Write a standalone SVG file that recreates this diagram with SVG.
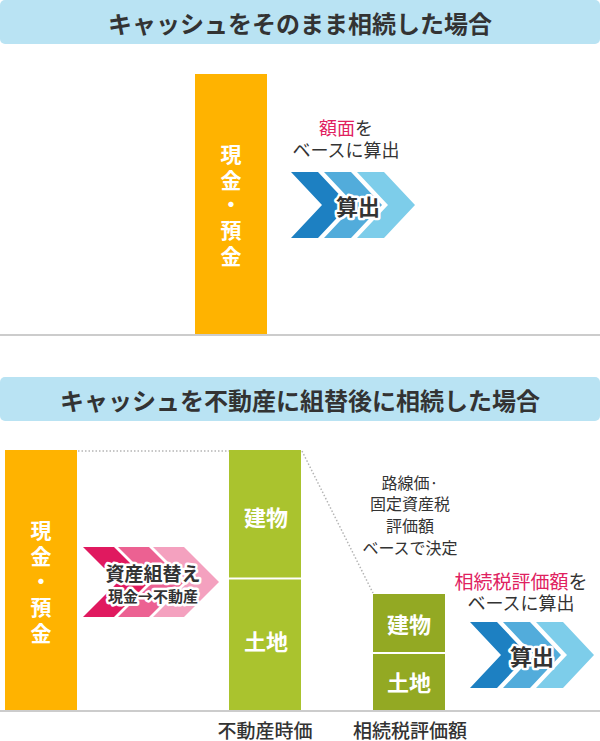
<svg xmlns="http://www.w3.org/2000/svg" width="600" height="741" viewBox="0 0 600 741">
<style>
text{font-family:"Noto Sans CJK JP","Noto Sans",sans-serif;}
.hdr{fill:#b9e3f3;}
.htx{font-size:24px;font-weight:700;fill:#333;text-anchor:middle;dominant-baseline:central;}
.wt{fill:#fff;font-size:22px;font-weight:700;text-anchor:middle;dominant-baseline:central;}
.vt{fill:#fff;font-size:21px;font-weight:700;text-anchor:middle;}
.dk{fill:#333;text-anchor:middle;dominant-baseline:central;}
.pk{fill:#e0215f;}
.ol{stroke:#fff;stroke-width:5;stroke-linejoin:round;paint-order:stroke;font-weight:700;}
.base{stroke:#cccccc;stroke-width:2;}
.dot{stroke:#b5b5b5;stroke-width:1.5;stroke-dasharray:1.5 2;fill:none;}
.b1{fill:#1d80c2;}.b2{fill:#52acdb;}.b3{fill:#7dcdea;}
.p1{fill:#e0195f;}.p2{fill:#ec6192;}.p3{fill:#f4a1bf;}
</style>

<g id="header1">
<rect class="hdr" x="0" y="0" width="600" height="44" rx="5"/>
<text class="htx" x="300" y="22">キャッシュをそのまま相続した場合</text>
</g>

<g id="cash1">
<rect x="195" y="74" width="72" height="261" fill="#ffb300"/>
<text class="vt" x="231" y="162"><tspan x="231" y="162">現</tspan><tspan x="231" y="188">金</tspan><tspan x="231" y="212">・</tspan><tspan x="231" y="238">預</tspan><tspan x="231" y="264">金</tspan></text>
</g>

<g id="note1">
<text class="dk" x="346" y="127" font-size="18"><tspan class="pk">額面</tspan>を</text>
<text class="dk" x="346" y="149" font-size="18">ベースに算出</text>
</g>

<g id="calc1">
<polygon class="b1" points="291,172 318,172 349,205 318,238 291,238 322,205"/>
<polygon class="b2" points="324,172 351,172 382,205 351,238 324,238 355,205"/>
<polygon class="b3" points="357,172 384,172 415,205 384,238 357,238 388,205"/>
<text class="dk ol" x="358" y="205" font-size="22">算出</text>
</g>

<line class="base" x1="0" y1="335" x2="600" y2="335"/>

<g id="header2">
<rect class="hdr" x="0" y="377" width="600" height="44" rx="5"/>
<text class="htx" x="300" y="399">キャッシュを不動産に組替後に相続した場合</text>
</g>

<g id="connectors">
<line class="dot" x1="78" y1="451" x2="229" y2="451"/>
<line class="dot" x1="302" y1="451" x2="373" y2="593"/>
</g>

<g id="cash2">
<rect x="5" y="450" width="72" height="261" fill="#ffb300"/>
<text class="vt" x="41" y="538"><tspan x="41" y="538">現</tspan><tspan x="41" y="564">金</tspan><tspan x="41" y="589">・</tspan><tspan x="41" y="615">預</tspan><tspan x="41" y="641">金</tspan></text>
</g>

<g id="swap">
<polygon class="p1" points="83,547 114,547 149,582 114,617 83,617 118,582"/>
<polygon class="p2" points="118,547 149,547 184,582 149,617 118,617 153,582"/>
<polygon class="p3" points="153,547 184,547 219,582 184,617 153,617 188,582"/>
<text class="dk ol" x="153" y="572" font-size="19">資産組替え</text>
<text class="dk ol" x="153" y="595" font-size="15" font-weight="500">現金→不動産</text>
</g>

<g id="market">
<rect x="229" y="450" width="72" height="261" fill="#aac32e"/>
<line x1="229" y1="578.5" x2="301" y2="578.5" stroke="#fff" stroke-width="2"/>
<text class="wt" x="266" y="516">建物</text>
<text class="wt" x="266" y="640">土地</text>
</g>

<g id="note2">
<text class="dk" x="410" y="482" font-size="16">路線価·</text>
<text class="dk" x="410" y="503" font-size="16">固定資産税</text>
<text class="dk" x="410" y="525" font-size="16">評価額</text>
<text class="dk" x="410" y="547" font-size="16">ベースで決定</text>
</g>

<g id="taxval">
<rect x="373" y="594" width="72" height="117" fill="#93a923"/>
<line x1="373" y1="653" x2="445" y2="653" stroke="#fff" stroke-width="2"/>
<text class="wt" x="409" y="623">建物</text>
<text class="wt" x="409" y="681">土地</text>
</g>

<g id="note3">
<text class="dk" x="521" y="580" font-size="19"><tspan class="pk">相続税評価額</tspan>を</text>
<text class="dk" x="521" y="602" font-size="18">ベースに算出</text>
</g>

<g id="calc2">
<polygon class="b1" points="470,622 497,622 528,655 497,688 470,688 501,655"/>
<polygon class="b2" points="503,622 530,622 561,655 530,688 503,688 534,655"/>
<polygon class="b3" points="536,622 563,622 594,655 563,688 536,688 567,655"/>
<text class="dk ol" x="532" y="655" font-size="22">算出</text>
</g>

<line class="base" x1="0" y1="711" x2="600" y2="711"/>

<g id="labels">
<text class="dk" x="265" y="729" font-size="19" font-weight="500">不動産時価</text>
<text class="dk" x="410" y="729" font-size="19" font-weight="500">相続税評価額</text>
</g>
</svg>
